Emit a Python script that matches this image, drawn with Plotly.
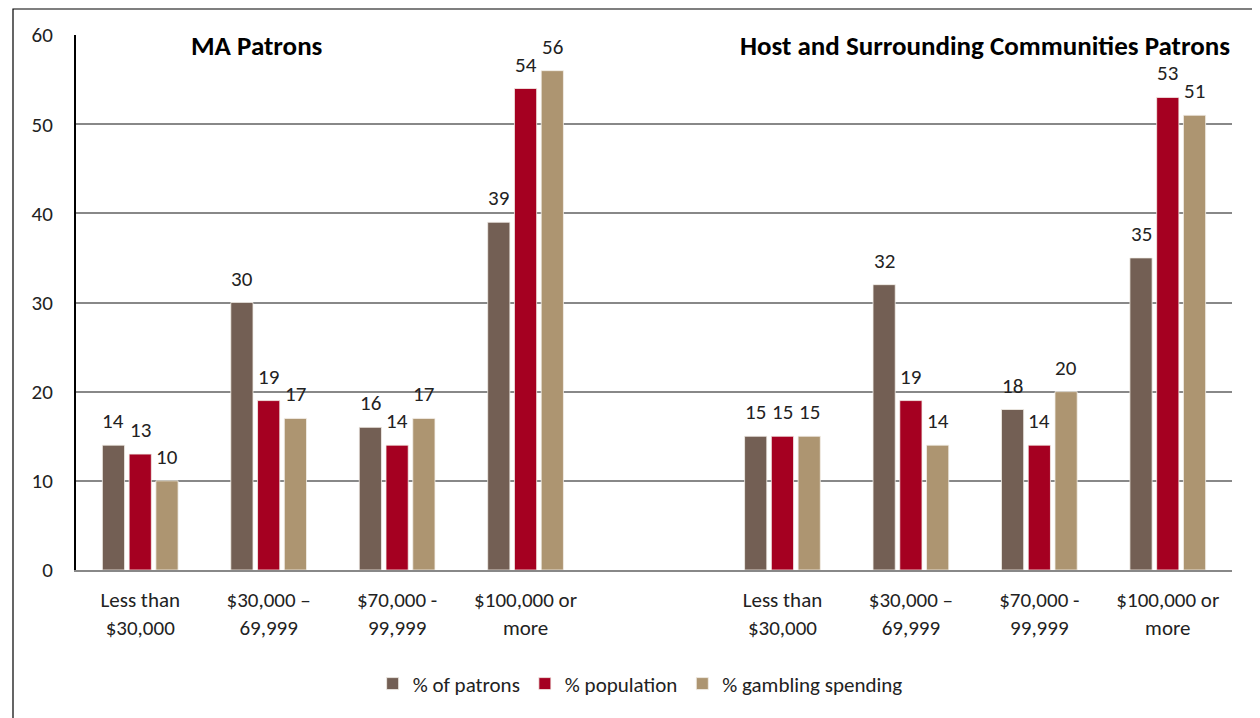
import plotly.graph_objects as go

categories = ["Less than<br>$30,000", "$30,000 –<br>69,999", "$70,000 -<br>99,999", "$100,000 or<br>more",
              "",
              "Less than<br>$30,000", "$30,000 –<br>69,999", "$70,000 -<br>99,999", "$100,000 or<br>more"]
series_names = ["% of patrons", "% population", "% gambling spending"]
pct_patrons = [14, 30, 16, 39, None, 15, 32, 18, 35]
pct_population = [13, 19, 14, 54, None, 15, 19, 14, 53]
pct_spending = [10, 17, 17, 56, None, 15, 14, 20, 51]
colors = ["#735F54", "#A50021", "#AD9571"]
panel_titles = ["MA Patrons", "Host and Surrounding Communities Patrons"]

FONT = "Carlito, Lato, 'Open Sans', sans-serif"
bargap = 0.375
xs = list(range(len(categories)))

W, H = 1252, 710
L, R, T, B = 68, 28, 27, 148
PW, PH = W - L - R, H - T - B

fig = go.Figure()
series = [pct_patrons, pct_population, pct_spending]
for name, vals, col in zip(series_names, series, colors):
    fig.add_trace(go.Bar(x=xs, y=vals, name=name,
                         marker=dict(color=col, line=dict(color="#f4f0ea", width=0.8))))

slot = (1 - bargap) / 3
for i, vals in enumerate(series):
    for x, v in zip(xs, vals):
        if v is None:
            continue
        fig.add_annotation(x=x + (i - 1) * slot, y=v, text=str(v), showarrow=False,
                           yanchor="middle", yshift=24, font=dict(size=21, color="#222", family=FONT))

fig.add_annotation(x=0.157, y=1, xref="paper", yref="paper", text="<b>" + panel_titles[0] + "</b>",
                   showarrow=False, xanchor="center", yanchor="middle", yshift=-10,
                   font=dict(size=27, color="#000", family=FONT))
fig.add_annotation(x=1.0, y=1, xref="paper", yref="paper", text="<b>" + panel_titles[1] + "</b>",
                   showarrow=False, xanchor="right", yanchor="middle", yshift=-10,
                   font=dict(size=27, color="#000", family=FONT))

# outer chart border
fig.add_shape(type="rect", xref="paper", yref="paper",
              x0=(5 - L) / PW, x1=(1250 - L) / PW,
              y0=(T + PH - 716) / PH, y1=(T + PH - 1) / PH,
              line=dict(color="#000", width=1.2), fillcolor="rgba(0,0,0,0)", layer="below")

fig.update_layout(
    width=W, height=H,
    margin=dict(l=L, r=R, t=T, b=B),
    paper_bgcolor="white", plot_bgcolor="white",
    barmode="group", bargap=bargap, bargroupgap=0.17,
    font=dict(family=FONT, size=21, color="#222"),
    showlegend=True,
    legend=dict(orientation="h", x=0.488, xanchor="center", y=-0.213, yanchor="middle",
                font=dict(size=21), itemwidth=30, tracegroupgap=0, traceorder="normal"),
    xaxis=dict(tickmode="array", tickvals=xs, ticktext=categories, range=[-0.5, 8.5],
               showline=True, linecolor="#888", linewidth=2, ticks="", showgrid=False,
               tickfont=dict(size=21, color="#222"), ticklabelstandoff=10, fixedrange=True),
    yaxis=dict(range=[0, 60], dtick=10, showgrid=True, gridcolor="#888", gridwidth=1.5,
               showline=True, linecolor="#000", linewidth=2, ticks="", zeroline=False,
               tickfont=dict(size=21, color="#222"), ticklabelstandoff=17, fixedrange=True),
)

fig.write_html("out.html")
